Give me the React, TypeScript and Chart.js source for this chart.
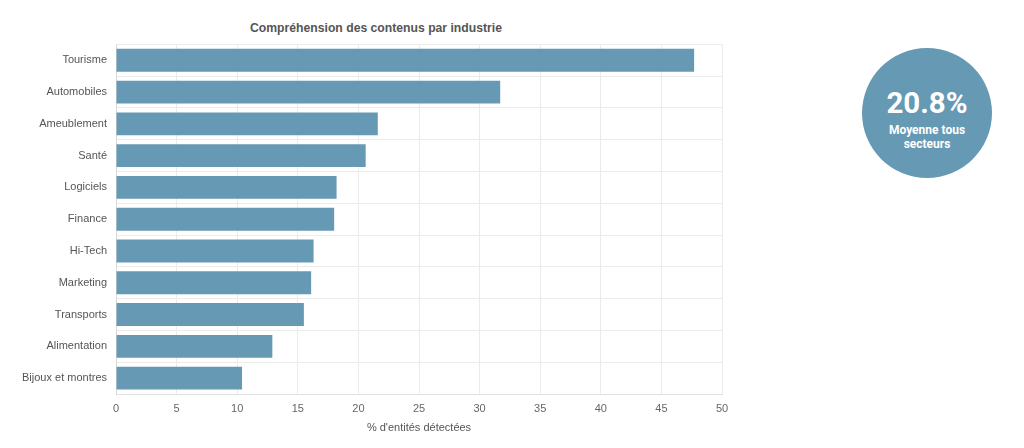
import React, { useEffect, useRef } from "react";
import { Chart, registerables } from "chart.js";

Chart.register(...registerables);

const categories = [
  "Tourisme",
  "Automobiles",
  "Ameublement",
  "Santé",
  "Logiciels",
  "Finance",
  "Hi-Tech",
  "Marketing",
  "Transports",
  "Alimentation",
  "Bijoux et montres",
];
const values = [47.7, 31.7, 21.6, 20.6, 18.2, 18.0, 16.3, 16.1, 15.5, 12.9, 10.4];
const chartTitle = "Compréhension des contenus par industrie";
const xAxisTitle = "% d'entités détectées";
const averageValue = "20.8%";
const averageLabel = ["Moyenne tous", "secteurs"];

const BAR_COLOR = "#6699b4";
const FONT = "'Liberation Sans', Arial, sans-serif";

export default function App() {
  const canvasRef = useRef<HTMLCanvasElement | null>(null);

  useEffect(() => {
    if (!canvasRef.current) return;
    const chart = new Chart(canvasRef.current, {
      type: "bar",
      data: {
        labels: categories,
        datasets: [
          {
            data: values,
            backgroundColor: BAR_COLOR,
            borderWidth: 0,
            barPercentage: 0.9,
            categoryPercentage: 0.8,
          },
        ],
      },
      options: {
        indexAxis: "y",
        animation: false,
        responsive: true,
        maintainAspectRatio: false,
        layout: { padding: { left: 0, right: 18, top: 44.4, bottom: 0 } },
        plugins: {
          legend: { display: false },
          tooltip: { enabled: false },
          title: { display: false },
        },
        scales: {
          x: {
            min: 0,
            max: 50,
            ticks: {
              stepSize: 5,
              color: "#666666",
              font: { family: FONT, size: 11 },
              padding: 8,
              maxRotation: 0,
            },
            grid: { color: "#ebebeb", drawTicks: false },
            border: { color: "#e0e0e0" },
            title: {
              display: true,
              text: xAxisTitle,
              color: "#555555",
              font: { family: FONT, size: 11 },
              padding: { top: 4, bottom: 13 },
            },
            afterFit: (scale: any) => {
              scale.height = 54;
            },
          },
          y: {
            ticks: {
              color: "#555555",
              font: { family: FONT, size: 11 },
              padding: 9,
            },
            grid: { color: "#ececec", drawTicks: false, offset: true },
            border: { color: "#d8d8d8" },
            afterFit: (scale: any) => {
              scale.width = 116;
            },
          },
        },
      },
    });
    return () => chart.destroy();
  }, []);

  return (
    <div
      style={{
        position: "fixed",
        left: 0,
        top: 0,
        width: 1024,
        height: 448,
        background: "#ffffff",
      }}
    >
      <div
        style={{
          position: "absolute",
          left: 376 - 200,
          top: 20,
          width: 400,
          height: 16,
          lineHeight: "16px",
          textAlign: "center",
          fontFamily: FONT,
          fontWeight: 700,
          fontSize: 12.2,
          color: "#555555",
        }}
      >
        {chartTitle}
      </div>
      <div style={{ position: "absolute", left: 0, top: 0, width: 740, height: 448 }}>
        <canvas ref={canvasRef} />
      </div>
      <div
        style={{
          position: "absolute",
          left: 927 - 65,
          top: 113 - 65,
          width: 130,
          height: 130,
          borderRadius: "50%",
          background: BAR_COLOR,
          color: "#ffffff",
          fontFamily: "Roboto, 'Liberation Sans', sans-serif",
          textAlign: "center",
        }}
      >
        <div
          style={{
            position: "absolute",
            left: 0,
            width: 130,
            top: 54.5 - 18,
            height: 36,
            lineHeight: "36px",
            fontSize: 29.5,
            fontWeight: 700,
          }}
        >
          {averageValue}
        </div>
        <div
          style={{
            position: "absolute",
            left: 0,
            width: 130,
            top: 75,
            lineHeight: "14px",
            fontSize: 12,
            fontWeight: 700,
          }}
        >
          {averageLabel[0]}
          <br />
          {averageLabel[1]}
        </div>
      </div>
    </div>
  );
}
